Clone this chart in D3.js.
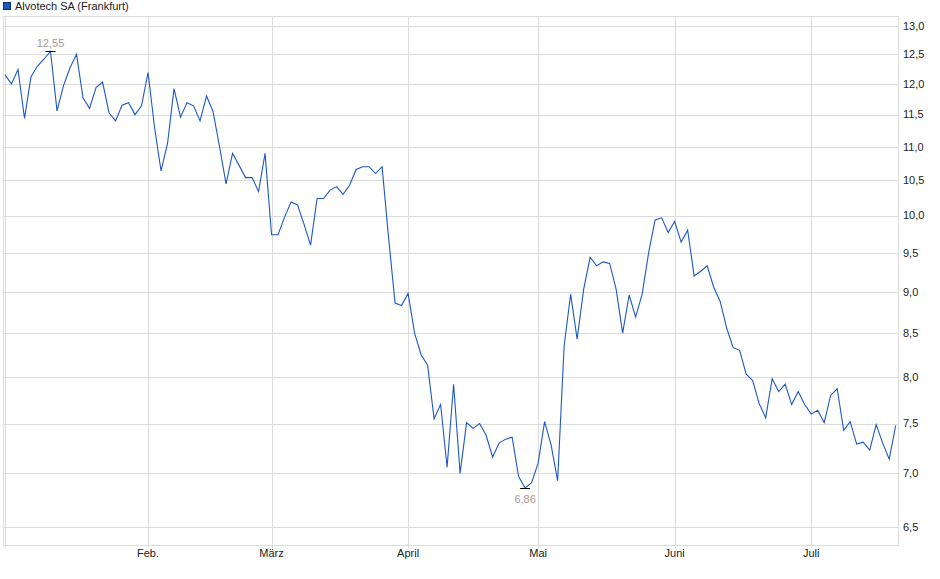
<!DOCTYPE html>
<html>
<head>
<meta charset="utf-8">
<script src="https://cdn.jsdelivr.net/npm/d3@7/dist/d3.min.js"></script>
<style>
  body { margin: 0; background: #fff; }
</style>
</head>
<body>
<script>
// daily closes (trading days)
let prices = [
  12.15, 12.0, 12.24, 11.44, 12.12, 12.3, 12.42, 12.55, 11.56, 11.97,
  12.27, 12.5, 11.77, 11.6, 11.94, 12.03, 11.53, 11.4, 11.65, 11.69,
  11.5, 11.64, 12.19, 11.3, 10.64, 11.05, 11.92, 11.46, 11.69, 11.64,
  11.4, 11.8, 11.55, 11.0, 10.45, 10.9, 10.72, 10.54, 10.54, 10.34,
  10.9, 9.74, 9.74, 9.98, 10.19, 10.15, 9.88, 9.6, 10.24, 10.24,
  10.36, 10.41, 10.3, 10.43, 10.66, 10.7, 10.7, 10.6, 10.7, 9.7,
  8.86, 8.83, 8.98, 8.5, 8.25, 8.13, 7.55, 7.7, 7.06, 7.92,
  7.0, 7.51, 7.45, 7.5, 7.38, 7.16, 7.3, 7.34, 7.36, 6.97,
  6.86, 6.91, 7.1, 7.52, 7.28, 6.93, 8.35, 8.97, 8.43, 9.03,
  9.44, 9.33, 9.38, 9.36, 9.03, 8.5, 8.96, 8.69, 8.97, 9.5,
  9.94, 9.97, 9.77, 9.92, 9.64, 9.8, 9.2, 9.26, 9.33, 9.06,
  8.88, 8.56, 8.33, 8.3, 8.03, 7.96, 7.71, 7.56, 7.98, 7.84,
  7.92, 7.7, 7.84, 7.7, 7.6, 7.64, 7.51, 7.8, 7.87, 7.43,
  7.52, 7.29, 7.31, 7.23, 7.49, 7.3, 7.14, 7.48
];

// first trading day of each month (index into prices)
let monthIdx = [0, 22, 41, 62, 82, 103, 124];
let monthLabels = ['', 'Feb.', 'März', 'April', 'Mai', 'Juni', 'Juli'];
let yTicks = [6.5, 7.0, 7.5, 8.0, 8.5, 9.0, 9.5, 10.0, 10.5, 11.0, 11.5, 12.0, 12.5, 13.0];
let seriesName = 'Alvotech SA (Frankfurt)';

let width = 940;
let height = 579;

let frame = { left: 3, right: 898, top: 16, bottom: 545 };

let xScale = d3.scaleLinear([0, prices.length - 1], [5, 895.7]);
let yScale = d3.scaleLog([6.5, 13], [527, 26]);

let fmt = v => d3.format('.1f')(v).replace('.', ',');
let font = '"Liberation Sans", Arial, sans-serif';
let gridColor = '#dcdcdc';

let svg = d3.create('svg')
  .attr('width', width)
  .attr('height', height)
  .attr('font-family', font);

// horizontal grid
svg.append('g')
  .selectAll('line')
  .data(yTicks)
  .join('line')
  .attr('x1', frame.left)
  .attr('x2', frame.right)
  .attr('y1', d => Math.round(yScale(d)) + 0.5)
  .attr('y2', d => Math.round(yScale(d)) + 0.5)
  .attr('stroke', gridColor);

// vertical grid at month starts
svg.append('g')
  .selectAll('line')
  .data(monthIdx)
  .join('line')
  .attr('x1', d => Math.round(xScale(d)) + 0.5)
  .attr('x2', d => Math.round(xScale(d)) + 0.5)
  .attr('y1', frame.top)
  .attr('y2', frame.bottom + 3)
  .attr('stroke', gridColor);

// frame
svg.append('rect')
  .attr('x', frame.left + 0.5)
  .attr('y', frame.top + 0.5)
  .attr('width', frame.right - frame.left)
  .attr('height', frame.bottom - frame.top)
  .attr('fill', 'none')
  .attr('stroke', gridColor);

// y labels on the right
svg.append('g')
  .selectAll('text')
  .data(yTicks)
  .join('text')
  .text(d => fmt(d))
  .attr('x', 903)
  .attr('y', d => yScale(d))
  .attr('dy', '0.35em')
  .attr('font-size', 11)
  .attr('fill', '#222');

// month labels
svg.append('g')
  .selectAll('text')
  .data(monthIdx)
  .join('text')
  .text((d, i) => monthLabels[i])
  .attr('x', d => xScale(d))
  .attr('y', 557)
  .attr('text-anchor', 'middle')
  .attr('font-size', 11)
  .attr('fill', '#222');

// price line
svg.append('path')
  .datum(prices)
  .attr('d', d3.line()
    .x((d, i) => xScale(i))
    .y(d => yScale(d)))
  .attr('fill', 'none')
  .attr('stroke', '#1c58c4')
  .attr('stroke-width', 1.1);

// high / low markers
let hiIdx = d3.maxIndex(prices);
let loIdx = d3.minIndex(prices);
let marks = [
  { i: hiIdx, dy: -5 },
  { i: loIdx, dy: 14 }
];
let mg = svg.append('g');
marks.forEach(m => {
  let x = xScale(m.i);
  let y = Math.round(yScale(prices[m.i])) + 0.5;
  mg.append('line')
    .attr('x1', x - 5)
    .attr('x2', x + 5)
    .attr('y1', y)
    .attr('y2', y)
    .attr('stroke', '#000');
  mg.append('text')
    .text(d3.format('.2f')(prices[m.i]).replace('.', ','))
    .attr('x', x)
    .attr('y', y + m.dy)
    .attr('text-anchor', 'middle')
    .attr('font-size', 11)
    .attr('fill', '#a59b92');
});

// legend
svg.append('rect')
  .attr('x', 3.5)
  .attr('y', 2.5)
  .attr('width', 7)
  .attr('height', 7)
  .attr('fill', '#1c58c4')
  .attr('stroke', '#0d2d6e');

svg.append('text')
  .text(seriesName)
  .attr('x', 15)
  .attr('y', 10)
  .attr('font-size', 11)
  .attr('fill', '#222');

document.body.prepend(svg.node());
</script>
</body>
</html>
